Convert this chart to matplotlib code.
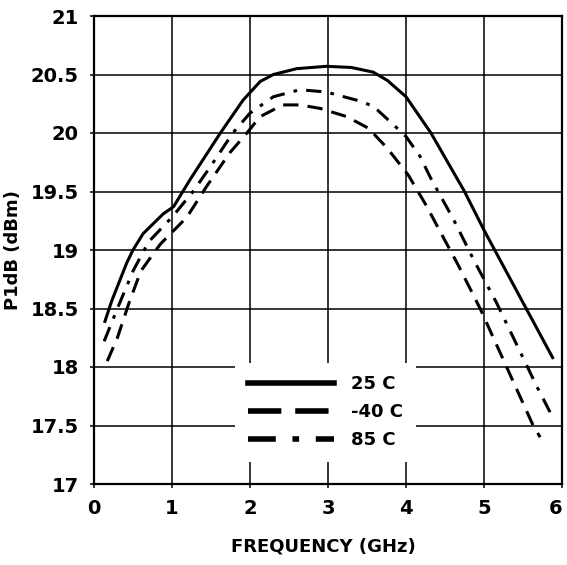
import matplotlib
matplotlib.use('Agg')
import matplotlib.pyplot as plt

# Data (frequency in GHz, P1dB in dBm)
freq_25 = [0.14, 0.23, 0.42, 0.5, 0.63, 0.89, 1.02, 1.23, 1.62, 1.91, 2.13, 2.3,
           2.6, 2.98, 3.3, 3.58, 3.76, 4.0, 4.32, 4.75, 5.0, 5.46, 5.88]
p1db_25 = [18.39, 18.57, 18.89, 19.0, 19.14, 19.31, 19.37, 19.6, 20.0, 20.28, 20.44, 20.5,
           20.55, 20.57, 20.56, 20.52, 20.45, 20.31, 20.0, 19.5, 19.17, 18.6, 18.08]

freq_m40 = [0.17, 0.3, 0.45, 0.6, 0.85, 1.19, 1.44, 1.74, 1.96, 2.13, 2.42, 2.64,
            2.9, 3.24, 3.52, 3.76, 4.03, 4.26, 4.46, 4.67, 4.95, 5.29, 5.63, 5.72]
p1db_m40 = [18.05, 18.25, 18.55, 18.82, 19.05, 19.28, 19.54, 19.83, 20.0, 20.14, 20.24, 20.24,
            20.21, 20.14, 20.04, 19.87, 19.64, 19.38, 19.13, 18.87, 18.5, 18.0, 17.5, 17.4]

freq_85 = [0.13, 0.3, 0.5, 0.7, 1.0, 1.27, 1.5, 1.78, 2.0, 2.3, 2.64, 2.98,
           3.37, 3.58, 3.84, 4.0, 4.18, 4.32, 4.61, 4.88, 5.16, 5.42, 5.68, 5.85]
p1db_85 = [18.22, 18.5, 18.82, 19.07, 19.28, 19.5, 19.72, 20.0, 20.17, 20.31, 20.37, 20.35,
           20.28, 20.23, 20.07, 19.97, 19.8, 19.61, 19.26, 18.9, 18.55, 18.19, 17.83, 17.61]

x_ticks = [0, 1, 2, 3, 4, 5, 6]
y_ticks = [17, 17.5, 18, 18.5, 19, 19.5, 20, 20.5, 21]
y_tick_labels = ['17', '17.5', '18', '18.5', '19', '19.5', '20', '20.5', '21']

font = dict(family='DejaVu Sans', weight='bold')

fig = plt.figure(figsize=(5.67, 5.65), dpi=100)
ax = fig.add_axes([94 / 567, 1 - 484 / 565, 468 / 567, 468 / 565])

ax.plot(freq_25, p1db_25, color='black', lw=2.2, label='25 C')
ax.plot(freq_m40, p1db_m40, color='black', lw=2.2, label='-40 C', dashes=(5, 3))
ax.plot(freq_85, p1db_85, color='black', lw=2.2, label='85 C', dashes=(5, 3, 1.2, 3))

ax.set_xlim(0, 6)
ax.set_ylim(17, 21)
ax.set_xticks(x_ticks)
ax.set_yticks(y_ticks)
ax.set_yticklabels(y_tick_labels)
ax.grid(True, color='black', lw=1.1)
ax.set_axisbelow(True)
for s in ax.spines.values():
    s.set_linewidth(1.6)
ax.tick_params(direction='out', length=3, width=1.1, pad=8, labelsize=14)
for lab in ax.get_xticklabels() + ax.get_yticklabels():
    lab.set_fontfamily('DejaVu Sans')
    lab.set_fontweight('bold')
# keep the "6" inside the figure edge
ax.get_xticklabels()[-1].set_horizontalalignment('right')

ax.set_xlabel('FREQUENCY (GHz)', fontsize=13, **font)
ax.set_ylabel('P1dB (dBm)', fontsize=13, **font)
ax.xaxis.set_label_coords(0.49, -0.115)
ax.yaxis.set_label_coords(-0.154, 0.5)

leg = ax.legend(loc='lower left', bbox_to_anchor=(0.282, 0.028),
                frameon=True, fancybox=False, handlelength=4.8,
                handletextpad=0.95, labelspacing=0.55, borderpad=0.7,
                prop=dict(size=13, **font))
leg.get_frame().set_facecolor('white')
leg.get_frame().set_edgecolor('none')
leg.get_frame().set_alpha(1)
h = leg.get_lines()
h[0].set_linewidth(4)
h[1].set_linewidth(4)
h[1].set_dashes((6, 2.5))
h[2].set_linewidth(4)
h[2].set_dashes((5, 3, 1.2, 3))

fig.savefig('out.png', dpi=100)
